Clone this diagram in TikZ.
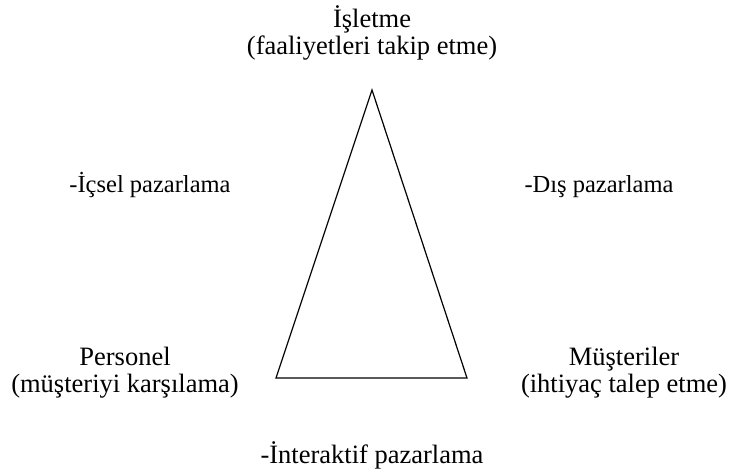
\documentclass[tikz,border=0pt]{standalone}
\usepackage{fontspec}
\setmainfont{Liberation Serif}
\usetikzlibrary{positioning}

\begin{document}
\begin{tikzpicture}[x=1pt,y=1pt]
\tikzset{
  textnode/.style={align=center,inner sep=0pt,anchor=base,font=\fontsize{26.5}{27}\selectfont},
  sidetext/.style={textnode,font=\fontsize{24.5}{27}\selectfont},
  sideline/.style={line width=1.2pt,line join=miter}
}
\useasboundingbox (0,0) rectangle (731,474);
% corners of the triangle
\coordinate (c_top) at (372,384);
\coordinate (c_left) at (276,96);
\coordinate (c_right) at (467,96);
\draw[sideline] (c_top) -- (c_left) -- (c_right) -- cycle;
% labels (two-line nodes sit on the baseline of their last line)
\node[textnode] (n_isletme) at (372,419) {İşletme\\(faaliyetleri takip etme)};
\node[sidetext] (n_icsel) at (150,281) {-İçsel pazarlama};
\node[sidetext] (n_dis) at (599,281) {-Dış pazarlama};
\node[textnode] (n_personel) at (125,81) {Personel\\(müşteriyi karşılama)};
\node[textnode] (n_musteri) at (624,81) {Müşteriler\\(ihtiyaç talep etme)};
\node[textnode] (n_interaktif) at (372,11) {-İnteraktif pazarlama};
\end{tikzpicture}
\end{document}
